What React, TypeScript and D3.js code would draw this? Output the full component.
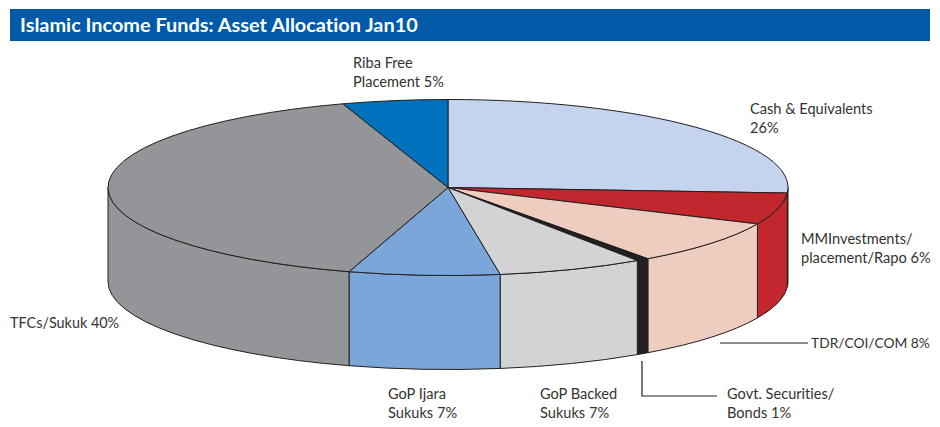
import React, { useEffect, useRef } from 'react';
import * as d3 from 'd3';

const title = 'Islamic Income Funds: Asset Allocation Jan10';

// shares, clockwise from 12 o'clock
const categories = [
  'Cash & Equivalents',
  'MMInvestments/placement/Rapo',
  'TDR/COI/COM',
  'Govt. Securities/Bonds',
  'GoP Backed Sukuks',
  'GoP Ijara Sukuks',
  'TFCs/Sukuk',
  'Riba Free Placement',
];
const shares = [26, 5.8, 8.2, 0.6, 6.95, 7.15, 40.3, 5];
const colors = ['#c5d4ee', '#c1272d', '#eecdc0', '#231f20', '#d1d3d4', '#7ba6da', '#939598', '#0071bc'];

const labels = [
  { x: 353, y: 68, size: 14.6, lines: ['Riba Free', 'Placement 5%'] },
  { x: 750, y: 114, size: 14.6, lines: ['Cash & Equivalents', '26%'] },
  { x: 801, y: 244, size: 14.6, lines: ['MMInvestments/', 'placement/Rapo 6%'] },
  { x: 811, y: 348, size: 13.8, lines: ['TDR/COI/COM 8%'] },
  { x: 727, y: 399, size: 14.6, lines: ['Govt. Securities/', 'Bonds 1%'] },
  { x: 540, y: 399, size: 14.6, lines: ['GoP Backed', 'Sukuks 7%'] },
  { x: 388, y: 399, size: 14.6, lines: ['GoP Ijara', 'Sukuks 7%'] },
  { x: 10, y: 328, size: 14.4, lines: ['TFCs/Sukuk 40%'] },
];

const width = 940;
const height = 427;
const cx = 448;
const cy = 187.5;
const rx = 340;
const ry = 88;
const depth = 94;

export default function App() {
  const ref = useRef<SVGSVGElement>(null);

  useEffect(() => {
    const svg = d3.select(ref.current);
    svg.selectAll('*').remove();

    svg.append('rect').attr('x', 10).attr('y', 9).attr('width', 920).attr('height', 32).attr('fill', '#005aa8');
    svg
      .append('text')
      .attr('x', 20)
      .attr('y', 32)
      .attr('fill', '#fff')
      .style('font-family', 'Lato')
      .style('font-weight', 'bold')
      .style('font-size', '19.9px')
      .style('font-variant-ligatures', 'none')
      .text(title);

    const arcs = d3
      .pie<number>()
      .sort(null)
      .value((d) => d)(shares);

    const px = (a: number) => cx + rx * Math.sin(a);
    const py = (a: number) => cy - ry * Math.cos(a);

    // only the front half of the rim shows
    const lo = Math.PI / 2;
    const hi = (Math.PI * 3) / 2;
    const sides = arcs.filter((d) => d.endAngle > lo && d.startAngle < hi);

    svg
      .selectAll('path.side')
      .data(sides)
      .enter()
      .append('path')
      .attr('class', 'side')
      .attr('d', (d) => {
        const a0 = Math.max(d.startAngle, lo);
        const a1 = Math.min(d.endAngle, hi);
        return (
          `M${px(a0)},${py(a0)} A${rx},${ry} 0 0 1 ${px(a1)},${py(a1)} ` +
          `L${px(a1)},${py(a1) + depth} A${rx},${ry} 0 0 0 ${px(a0)},${py(a0) + depth} Z`
        );
      })
      .attr('fill', (d) => colors[d.index])
      .attr('stroke', '#231f20')
      .attr('stroke-width', 1);

    svg
      .selectAll('path.top')
      .data(arcs)
      .enter()
      .append('path')
      .attr('class', 'top')
      .attr('d', (d) => {
        const large = d.endAngle - d.startAngle > Math.PI ? 1 : 0;
        return (
          `M${cx},${cy} L${px(d.startAngle)},${py(d.startAngle)} ` +
          `A${rx},${ry} 0 ${large} 1 ${px(d.endAngle)},${py(d.endAngle)} Z`
        );
      })
      .attr('fill', (d) => colors[d.index])
      .attr('stroke', '#231f20')
      .attr('stroke-width', 1)
      .append('title')
      .text((d) => categories[d.index]);

    // leader lines
    svg.append('path').attr('d', 'M720,343 H808').attr('fill', 'none').attr('stroke', '#231f20').attr('stroke-width', 1.2);
    svg.append('path').attr('d', 'M642,361 V396 H717').attr('fill', 'none').attr('stroke', '#231f20').attr('stroke-width', 1.2);

    const text = svg
      .selectAll('text.label')
      .data(labels)
      .enter()
      .append('text')
      .attr('class', 'label')
      .attr('fill', '#333')
      .style('font-family', 'Lato')
      .style('font-variant-ligatures', 'none')
      .style('font-size', (d) => `${d.size}px`);

    text
      .selectAll('tspan')
      .data((d) => d.lines.map((line, i) => ({ line, x: d.x, y: d.y + i * 19 })))
      .enter()
      .append('tspan')
      .attr('x', (d) => d.x)
      .attr('y', (d) => d.y)
      .text((d) => d.line);
  }, []);

  return <svg ref={ref} width={width} height={height} style={{ position: 'absolute', left: 0, top: 0, background: '#fff' }} />;
}
